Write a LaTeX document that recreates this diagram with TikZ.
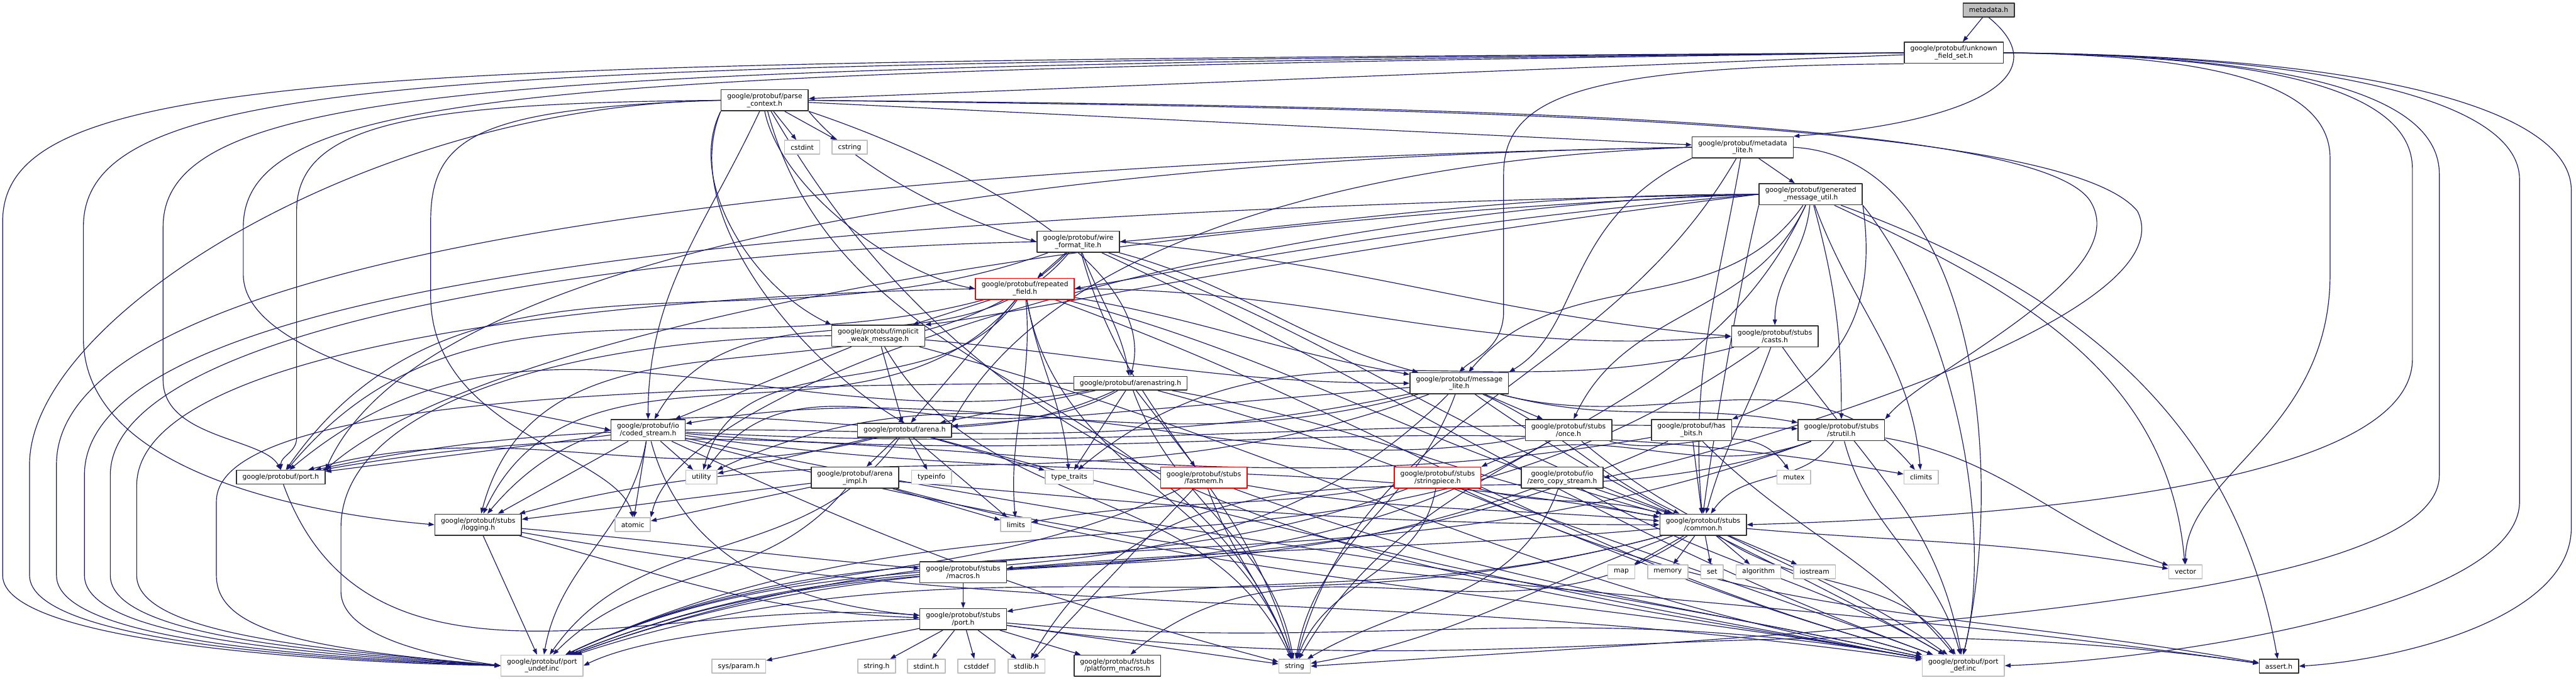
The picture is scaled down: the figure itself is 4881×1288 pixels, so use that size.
\documentclass[tikz,border=0pt]{standalone}
\usepackage{fontspec}
\setmainfont{DejaVu Sans}
\usetikzlibrary{arrows.meta}
\definecolor{edgeblue}{HTML}{191970}
\definecolor{sysgray}{HTML}{BFBFBF}
\pgfdeclarelayer{bg}
\pgfsetlayers{bg,main}

\begin{document}
\begin{tikzpicture}[x=0.25pt, y=0.25pt, line join=round,
  file/.style={draw=black!80, line width=0.45pt, fill=white, inner xsep=2.85pt, inner ysep=0pt,
    minimum height=6.5pt, align=center, font=\fontsize{3.2}{3.5}\selectfont},
  two/.style={minimum height=10pt},
  sys/.style={file, draw=sysgray},
  trunc/.style={file, draw=red},
  dep/.style={draw=edgeblue, line width=0.35pt, -{Triangle[length=2.75pt,width=2pt]}}]
  \path[use as bounding box] (0,0) rectangle (4881,-1288);
  % ── 节点：按 dot 的分层摆放（像素坐标，y 向下取负）──
  \node[file, fill=sysgray] (meta) at (3768,-19) {metadata.h};
  \node[file,two] (ufs) at (3702,-100) {google/protobuf/unknown\\\_field\_set.h};
  \node[file,two] (pctx) at (1449,-190) {google/protobuf/parse\\\_context.h};
  \node[sys] (cstdint) at (1520,-279) {cstdint};
  \node[sys] (cstring) at (1610,-279) {cstring};
  \node[file,two] (mlite) at (3302,-279) {google/protobuf/metadata\\\_lite.h};
  \node[file,two] (gmu) at (3431,-368) {google/protobuf/generated\\\_message\_util.h};
  \node[file,two] (wfl) at (2043,-458) {google/protobuf/wire\\\_format\_lite.h};
  \node[trunc,two] (rf) at (1942,-547) {google/protobuf/repeated\\\_field.h};
  \node[file,two] (iwm) at (1664,-636) {google/protobuf/implicit\\\_weak\_message.h};
  \node[file,two] (casts) at (3363,-637) {google/protobuf/stubs\\/casts.h};
  \node[file] (astr) at (2142,-726) {google/protobuf/arenastring.h};
  \node[file,two] (msgl) at (2765,-726) {google/protobuf/message\\\_lite.h};
  \node[file] (arena) at (1714,-815) {google/protobuf/arena.h};
  \node[file,two] (coded) at (1228,-815) {google/protobuf/io\\/coded\_stream.h};
  \node[file,two] (once) at (2972,-815) {google/protobuf/stubs\\/once.h};
  \node[file,two] (hasbits) at (3205,-815) {google/protobuf/has\\\_bits.h};
  \node[file,two] (strutil) at (3489,-815) {google/protobuf/stubs\\/strutil.h};
  \node[file] (port) at (532,-904) {google/protobuf/port.h};
  \node[sys] (utility) at (1329,-904) {utility};
  \node[file,two] (aimpl) at (1620,-905) {google/protobuf/arena\\\_impl.h};
  \node[sys] (typeinfo) at (1765,-904) {typeinfo};
  \node[sys] (ttraits) at (2026,-904) {type\_traits};
  \node[trunc,two] (fastmem) at (2281,-905) {google/protobuf/stubs\\/fastmem.h};
  \node[trunc,two] (spiece) at (2724,-905) {google/protobuf/stubs\\/stringpiece.h};
  \node[file,two] (zcs) at (2960,-905) {google/protobuf/io\\/zero\_copy\_stream.h};
  \node[sys] (mutex) at (3399,-904) {mutex};
  \node[sys] (climits) at (3640,-904) {climits};
  \node[file,two] (logging) at (906,-994) {google/protobuf/stubs\\/logging.h};
  \node[sys] (atomic) at (1199,-994) {atomic};
  \node[sys] (limits) at (1925,-994) {limits};
  \node[file,two] (common) at (3227,-994) {google/protobuf/stubs\\/common.h};
  \node[file,two] (macros) at (1825,-1084) {google/protobuf/stubs\\/macros.h};
  \node[sys] (map) at (3072,-1083) {map};
  \node[sys] (memory) at (3160,-1083) {memory};
  \node[sys] (set) at (3244,-1083) {set};
  \node[sys] (algorithm) at (3332,-1083) {algorithm};
  \node[sys] (iostream) at (3438,-1083) {iostream};
  \node[sys] (vector) at (4141,-1083) {vector};
  \node[file,two] (sport) at (1825,-1173) {google/protobuf/stubs\\/port.h};
  \node[sys,two] (undef) at (1027,-1261) {google/protobuf/port\\\_undef.inc};
  \node[sys] (sysparam) at (1400,-1262) {sys/param.h};
  \node[sys] (stringh) at (1661,-1262) {string.h};
  \node[sys] (stdinth) at (1755,-1262) {stdint.h};
  \node[sys] (cstddef) at (1850,-1262) {cstddef};
  \node[sys] (stdlibh) at (1945,-1262) {stdlib.h};
  \node[file,two] (platform) at (2117,-1261) {google/protobuf/stubs\\/platform\_macros.h};
  \node[sys] (string) at (2453,-1262) {string};
  \node[sys,two] (def) at (3720,-1261) {google/protobuf/port\\\_def.inc};
  \node[file] (assert) at (4318,-1262) {assert.h};

  \begin{pgfonlayer}{bg}
  % ── metadata.h ──
  \draw[dep] (meta) -- (ufs);
  \draw[dep] (meta.south) .. controls (3900,-140) and (3750,-230) .. (mlite.north east);

  % ── unknown_field_set.h：左右两侧的长边绕行 ──
  \draw[dep] (ufs) -- (pctx);
  \draw[dep] (ufs.south west) .. controls (3000,-125) and (2849,-180) .. (2849,-330) -- (2849,-590) .. controls (2849,-660) and (2790,-680) .. (msgl.north);
  \draw[dep] (ufs.west) .. controls (700,-118) and (5,-125) .. (5,-420) -- (5,-1090) .. controls (5,-1215) and (600,-1255) .. (undef.west);
  \draw[dep] (ufs.west) .. controls (850,-122) and (158,-135) .. (158,-430) -- (158,-640) .. controls (158,-900) and (600,-975) .. (logging.west);
  \draw[dep] (ufs.west) .. controls (1000,-128) and (309,-150) .. (309,-430) -- (309,-720) .. controls (309,-830) and (500,-830) .. (port.north);
  \draw[dep] (ufs.west) .. controls (1100,-135) and (461,-160) .. (461,-430) -- (461,-520) .. controls (461,-700) and (1000,-780) .. (coded.west);
  \draw[dep] (ufs.east) .. controls (4200,-105) and (4415,-160) .. (4415,-300) -- (4415,-520) .. controls (4415,-820) and (4141,-900) .. (vector.north);
  \draw[dep] (ufs.east) .. controls (4300,-105) and (4571,-170) .. (4571,-320) -- (4571,-680) .. controls (4571,-950) and (3600,-985) .. (common.east);
  \draw[dep] (ufs.east) .. controls (4350,-105) and (4622,-180) .. (4622,-330) -- (4622,-900) .. controls (4622,-1150) and (3400,-1200) .. (string.east);
  \draw[dep] (ufs.east) .. controls (4450,-105) and (4774,-200) .. (4774,-340) -- (4774,-950) .. controls (4774,-1150) and (4100,-1250) .. (def.east);
  \draw[dep] (ufs.east) .. controls (4550,-105) and (4872,-220) .. (4872,-360) -- (4872,-1000) .. controls (4872,-1170) and (4550,-1250) .. (assert.east);

  % ── parse_context.h ──
  \foreach \t in {cstdint,cstring,mlite} \draw[dep] (pctx) -- (\t);
  \draw[dep] (pctx.west) .. controls (800,-195) and (562,-230) .. (562,-400) -- (562,-830) to[out=-90,in=90] (port.north);
  \draw[dep] (pctx.west) .. controls (700,-200) and (56,-600) .. (56,-880) -- (56,-1090) .. controls (56,-1215) and (600,-1250) .. (undef.west);
  \draw[dep] (pctx.west) .. controls (900,-205) and (816,-260) .. (816,-420) -- (816,-560) .. controls (816,-820) and (1170,-860) .. (atomic.north);
  \draw[dep] (pctx) to[out=-115,in=90] (coded);
  \draw[dep] (pctx.south west) .. controls (1300,-340) and (1420,-540) .. (iwm.north west);
  \draw[dep] (pctx.south west) .. controls (1280,-420) and (1540,-700) .. (arena.north);
  \draw[dep] (pctx.south) .. controls (1480,-360) and (1700,-520) .. (rf.west);
  \draw[dep] (pctx.south east) .. controls (1640,-340) and (1860,-430) .. (wfl.west);
  \draw[dep] (pctx.south east) .. controls (1800,-300) and (2200,-500) .. (astr.north);
  \draw[dep] (pctx.east) .. controls (2600,-205) and (3900,-215) .. (4050,-400) .. controls (4150,-600) and (3300,-850) .. (zcs.east);
  \draw[dep] (pctx.east) .. controls (2600,-200) and (3850,-215) .. (3960,-380) .. controls (4050,-520) and (3650,-700) .. (strutil.north east);
  \draw[dep] (pctx) to[out=-75,in=110] (string);
  \draw[dep] (pctx) to[out=-60,in=170] (def);

  % ── metadata_lite.h ──
  \draw[dep] (mlite) -- (gmu);
  \draw[dep] (mlite.south west) .. controls (2960,-420) and (3000,-620) .. (msgl.north east);
  \draw[dep] (mlite.west) .. controls (2600,-300) and (2000,-450) .. (arena.north east);
  \draw[dep] (mlite.west) .. controls (1900,-300) and (800,-480) .. (port.north east);
  \draw[dep] (mlite.west) .. controls (1500,-310) and (107,-480) .. (107,-880) -- (107,-1090) .. controls (107,-1215) and (600,-1245) .. (undef.west);
  \draw[dep] (mlite) to[out=-100,in=95] (common);
  \draw[dep] (mlite) to[out=-120,in=75] (string);
  \draw[dep] (mlite.east) .. controls (3750,-300) and (3800,-900) .. (def.north);

  % ── generated_message_util.h ──
  \draw[dep] (gmu) to[out=-20,in=100] (assert);
  \draw[dep] (gmu.west) .. controls (2400,-390) and (1300,-700) .. (atomic.north east);
  \draw[dep] (gmu) to[out=-70,in=95] (climits);
  \draw[dep] (gmu) to[out=-115,in=60] (string);
  \draw[dep] (gmu) to[out=-25,in=95] (vector);
  \draw[dep] (gmu.south west) .. controls (3300,-520) and (3250,-800) .. (common.north);
  \draw[dep] (gmu.south east) .. controls (3560,-600) and (3480,-720) .. (hasbits.north east);
  \draw[dep] (gmu.west) .. controls (2500,-470) and (1900,-600) .. (iwm.north east);
  \draw[dep] (gmu) to[out=-125,in=50] (msgl);
  \draw[dep] (gmu) to[out=-115,in=65] (once);
  \draw[dep] (gmu.west) .. controls (2000,-420) and (900,-640) .. (port.north east);
  \draw[dep] (gmu.west) to[out=185,in=10] (rf.east);
  \draw[dep] (gmu.west) to[out=180,in=5] (wfl.east);
  \draw[dep] (gmu) to[out=-75,in=90] (strutil);
  \draw[dep] (gmu) to[out=-95,in=90] (casts);
  \draw[dep] (gmu.south east) .. controls (3700,-600) and (3780,-1000) .. (def.north);
  \draw[dep] (gmu.west) .. controls (1600,-400) and (160,-520) .. (160,-900) -- (160,-1090) .. controls (160,-1210) and (600,-1240) .. (undef.west);

  % ── wire_format_lite.h ──
  \draw[dep] (wfl) -- (rf);
  \draw[dep] (wfl) to[out=-70,in=100] (astr);
  \draw[dep] (wfl) to[out=-15,in=165] (msgl);
  \draw[dep] (wfl.east) to[out=-5,in=175] (casts.west);
  \draw[dep] (wfl) to[out=-130,in=60] (coded);
  \draw[dep] (wfl) to[out=-135,in=75] (logging);
  \draw[dep] (wfl) to[out=-20,in=160] (common);
  \draw[dep] (wfl) to[out=-75,in=105] (string);
  \draw[dep] (wfl) to[out=200,in=55] (port);
  \draw[dep] (wfl) to[out=-25,in=160] (def);
  \draw[dep] (wfl.west) .. controls (1300,-470) and (209,-600) .. (209,-900) -- (209,-1090) .. controls (209,-1205) and (600,-1235) .. (undef.west);

  % ── repeated_field.h ──
  \draw[dep] (rf) -- (iwm);
  \draw[dep] (rf) -- (arena);
  \draw[dep] (rf) to[out=-85,in=95] (limits);
  \draw[dep] (rf) to[out=-80,in=95] (ttraits);
  \draw[dep] (rf) to[out=-10,in=170] (msgl);
  \draw[dep] (rf.east) to[out=0,in=185] (casts.west);
  \draw[dep] (rf) to[out=-125,in=75] (utility);
  \draw[dep] (rf) to[out=-130,in=65] (logging);
  \draw[dep] (rf) to[out=-15,in=165] (common);
  \draw[dep] (rf) to[out=-80,in=110] (string);
  \draw[dep] (rf) to[out=195,in=50] (port);
  \draw[dep] (rf) to[out=-20,in=165] (def);
  \draw[dep] (rf.west) .. controls (1200,-560) and (259,-650) .. (259,-920) -- (259,-1090) .. controls (259,-1200) and (600,-1230) .. (undef.west);

  % ── implicit_weak_message.h ──
  \draw[dep] (iwm) -- (arena);
  \draw[dep] (iwm) -- (coded);
  \draw[dep] (iwm) to[out=-5,in=180] (msgl);
  \draw[dep] (iwm) to[out=-60,in=115] (string);
  \draw[dep] (iwm) to[out=-15,in=170] (def);
  \draw[dep] (iwm.west) .. controls (1100,-640) and (646,-760) .. (646,-1000) -- (646,-1120) .. controls (646,-1200) and (800,-1240) .. (undef.west);

  % ── arenastring.h ──
  \foreach \t in {arena,fastmem,ttraits} \draw[dep] (astr) -- (\t);
  \draw[dep] (astr) to[out=-70,in=100] (string);
  \draw[dep] (astr) to[out=-150,in=55] (utility);
  \draw[dep] (astr) to[out=-155,in=50] (logging);
  \draw[dep] (astr) to[out=-10,in=170] (common);
  \draw[dep] (astr) to[out=190,in=40] (port);
  \draw[dep] (astr) to[out=-15,in=165] (def);
  \draw[dep] (astr.west) .. controls (1200,-730) and (410,-760) .. (410,-950) -- (410,-1090) .. controls (410,-1200) and (600,-1230) .. (undef.west);

  % ── arena.h ──
  \foreach \t in {aimpl,typeinfo,ttraits,utility,limits} \draw[dep] (arena) -- (\t);
  \draw[dep] (arena) to[out=195,in=15] (port);
  \draw[dep] (arena) to[out=-15,in=170] (def);
  \draw[dep] (arena) to[out=-125,in=55] (undef);

  % ── io/coded_stream.h ──
  \foreach \t in {atomic,utility,logging,port} \draw[dep] (coded) -- (\t);
  \draw[dep] (coded) to[out=-15,in=172] (assert);
  \draw[dep] (coded) to[out=-5,in=170] (climits);
  \draw[dep] (coded) to[out=-25,in=165] (string);
  \draw[dep] (coded) to[out=-8,in=170] (common);
  \draw[dep] (coded) to[out=-3,in=178] (strutil);
  \draw[dep] (coded) to[out=-75,in=175] (sport);
  \draw[dep] (coded) to[out=-12,in=168] (def);
  \draw[dep] (coded) to[out=-100,in=80] (undef);

  % ── message_lite.h ──
  \draw[dep] (msgl) -- (once);
  \draw[dep] (msgl) -- (arena);
  \draw[dep] (msgl) to[out=-15,in=170] (strutil);
  \draw[dep] (msgl) to[out=195,in=10] (coded);
  \draw[dep] (msgl) to[out=200,in=15] (logging);
  \draw[dep] (msgl) to[out=-25,in=155] (common);
  \draw[dep] (msgl) to[out=-15,in=130] (climits);
  \draw[dep] (msgl) to[out=-110,in=80] (string);
  \draw[dep] (msgl) to[out=192,in=12] (port);
  \draw[dep] (msgl) to[out=-35,in=150] (def);
  \draw[dep] (msgl) to[out=-135,in=25] (undef);

  % ── stubs/casts.h, stubs/once.h, has_bits.h ──
  \draw[dep] (casts) to[out=-110,in=75] (common);
  \draw[dep] (casts) to[out=195,in=40] (ttraits);
  \draw[dep] (casts) to[out=-55,in=100] (def);
  \draw[dep] (casts) to[out=-145,in=25] (undef);
  \draw[dep] (once) to[out=-15,in=125] (mutex);
  \draw[dep] (once) to[out=190,in=25] (utility);
  \draw[dep] (once) to[out=-40,in=145] (def);
  \draw[dep] (once) to[out=-150,in=22] (undef);
  \draw[dep] (hasbits) -- (common);
  \draw[dep] (hasbits) to[out=190,in=10] (port);
  \draw[dep] (hasbits) to[out=-45,in=130] (def);
  \draw[dep] (hasbits) to[out=-155,in=20] (undef);

  % ── stubs/strutil.h ──
  \draw[dep] (strutil) to[out=200,in=25] (spiece.north east);
  \draw[dep] (strutil) to[out=-160,in=60] (stdlibh);
  \draw[dep] (strutil) to[out=-10,in=160] (vector);
  \draw[dep] (strutil) to[out=-125,in=55] (common);
  \draw[dep] (strutil) to[out=-75,in=105] (def);
  \draw[dep] (strutil) to[out=-160,in=20] (undef);

  % ── port.h, logging.h, arena_impl.h, fastmem.h, macros.h ──
  \draw[dep] (port) to[out=-70,in=175] (sport);
  \draw[dep] (logging) to[out=-5,in=175] (macros);
  \draw[dep] (logging) to[out=-15,in=178] (sport);
  \draw[dep] (logging) to[out=-10,in=172] (def);
  \draw[dep] (logging) -- (undef);
  \foreach \t in {atomic,limits,logging} \draw[dep] (aimpl) -- (\t);
  \draw[dep] (aimpl) to[out=-5,in=180] (common);
  \draw[dep] (aimpl) to[out=-15,in=170] (def);
  \draw[dep] (aimpl) to[out=-130,in=45] (undef);
  \draw[dep] (fastmem) -- (stdlibh);
  \draw[dep] (fastmem) to[out=-70,in=110] (string);
  \draw[dep] (fastmem) to[out=-10,in=175] (common);
  \draw[dep] (fastmem) to[out=-20,in=168] (def);
  \draw[dep] (fastmem) to[out=-155,in=25] (undef);
  \draw[dep] (macros) -- (sport);

  % ── stubs/port.h ──
  \foreach \t in {sysparam,stringh,stdinth,cstddef,stdlibh,platform,string} \draw[dep] (sport) -- (\t);
  \draw[dep] (sport) to[out=-8,in=172] (assert);
  \draw[dep] (sport) to[out=-5,in=170] (def);
  \draw[dep] (sport.west) .. controls (1400,-1180) and (1200,-1215) .. (undef.east);

  % ── stubs/stringpiece.h, io/zero_copy_stream.h ──
  \draw[dep] (spiece) to[out=-15,in=165] (common);
  \draw[dep] (spiece) to[out=190,in=10] (limits);
  \draw[dep] (spiece) to[out=-100,in=70] (string);
  \draw[dep] (spiece) to[out=-25,in=170] (assert);
  \draw[dep] (spiece) to[out=-20,in=160] (def);
  \draw[dep] (spiece) to[out=-160,in=25] (undef);
  \draw[dep] (zcs) -- (common);
  \draw[dep] (zcs) to[out=-110,in=30] (string);
  \draw[dep] (zcs) to[out=-30,in=150] (def);
  \draw[dep] (zcs) to[out=-160,in=22] (undef);

  % ── stubs/common.h ──
  \foreach \t in {map,memory,set,algorithm,iostream} \draw[dep] (common) -- (\t);
  \draw[dep] (common) to[out=-5,in=170] (vector);
  \draw[dep] (common) to[out=-160,in=10] (string);
  \draw[dep] (common) to[out=185,in=5] (macros);
  \draw[dep] (common) to[out=195,in=10] (sport);
  \draw[dep] (common) to[out=-145,in=40] (platform);
  \draw[dep] (common) to[out=-35,in=125] (def);
  \draw[dep] (common) to[out=-165,in=18] (undef);
  \end{pgfonlayer}
\end{tikzpicture}
\end{document}
